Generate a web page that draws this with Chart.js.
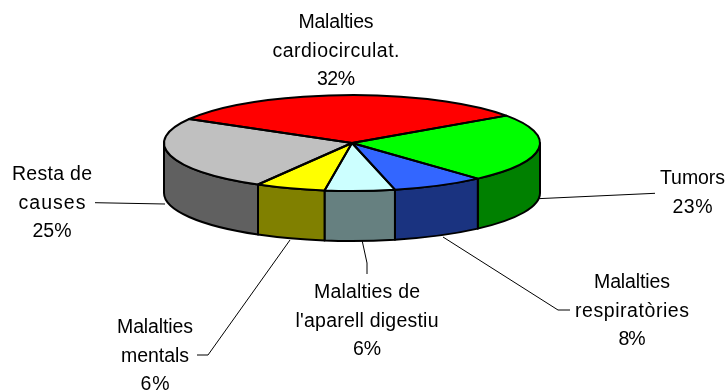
<!DOCTYPE html>
<html><head><meta charset="utf-8">
<style>html,body{margin:0;padding:0;background:#fff}canvas{display:block}</style>
<script src="https://cdn.jsdelivr.net/npm/chart.js@4"></script>
</head><body>
<canvas id="c" width="728" height="390"></canvas>
<script>
const categories = ["Malalties cardiocirculat.","Tumors","Malalties respiratòries","Malalties de l'aparell digestiu","Malalties mentals","Resta de causes"];
const values = [32,23,8,6,6,25];
const labelLines = [["Malalties","cardiocirculat."],["Tumors"],["Malalties","respiratòries"],["Malalties de","l'aparell digestiu"],["Malalties","mentals"],["Resta de","causes"]];
const topColors = ["#ff0000","#00ff00","#3366ff","#ccffff","#ffff00","#c0c0c0"];
const sideColors = ["#800000","#008000","#1a3380","#668080","#808000","#606060"];
const labelPos = [[336,28],[692.5,184],[632,288],[367,298],[155,333],[52,180]];
const lineWidths = [[75,127,38],[65,40],[76,114,27],[106,143,28],[76,68,29],[80,67,39]];
const leaders = [null,[[538,198.7],[655,193.3]],[[443,237],[558,310],[570,310]],[[362,240],[367,263],[367,274]],[[290,240],[208,355],[197,355]],[[95,202.7],[165,204]]];
const CX=352, CY=143, SY=0.255, DEPTH=50, FONT='19.5px "Liberation Sans", Arial, sans-serif', LH=28.5;

const pie3d = {
  id:'pie3d',
  beforeDatasetsDraw(chart){
    const ctx=chart.ctx, arcs=chart.getDatasetMeta(0).data;
    const a0=arcs[0];
    arcs.forEach((a,i)=>{
      for(let k=-1;k<=1;k++){
        const s=Math.max(a.startAngle+k*2*Math.PI,0), e=Math.min(a.endAngle+k*2*Math.PI,Math.PI);
        if(e<=s) continue;
        const r=a.outerRadius;
        ctx.save();
        ctx.beginPath();
        ctx.ellipse(CX,CY,r,r*SY,0,s,e,false);
        ctx.ellipse(CX,CY+DEPTH,r,r*SY,0,e,s,true);
        ctx.closePath();
        ctx.fillStyle=sideColors[i]; ctx.fill();
        ctx.strokeStyle='#000'; ctx.lineWidth=2; ctx.lineJoin='round'; ctx.stroke();
        ctx.restore();
      }
    });
    ctx.save();
    ctx.translate(CX,CY); ctx.scale(1,SY); ctx.translate(-a0.x,-a0.y);
  },
  afterDatasetsDraw(chart){
    const ctx=chart.ctx, arcs=chart.getDatasetMeta(0).data;
    ctx.restore();
    ctx.save();
    ctx.strokeStyle='#000'; ctx.lineWidth=2; ctx.lineJoin='round';
    arcs.forEach(a=>{
      const r=a.outerRadius;
      ctx.beginPath();
      ctx.moveTo(CX,CY);
      ctx.ellipse(CX,CY,r,r*SY,0,a.startAngle,a.endAngle,false);
      ctx.closePath();
      ctx.stroke();
    });
    ctx.restore();
    ctx.save();
    ctx.strokeStyle='#000'; ctx.lineWidth=1;
    leaders.forEach(l=>{
      if(!l) return;
      ctx.beginPath();
      l.forEach((p,j)=> j? ctx.lineTo(p[0],p[1]) : ctx.moveTo(p[0],p[1]));
      ctx.stroke();
    });
    ctx.fillStyle='#000'; ctx.font=FONT; ctx.textAlign='center'; ctx.textBaseline='alphabetic';
    const total=values.reduce((s,v)=>s+v,0);
    labelLines.forEach((lines,i)=>{
      const all=[...lines, Math.round(values[i]/total*100)+'%'];
      all.forEach((t,j)=>{
        ctx.letterSpacing='0px';
        const natural=ctx.measureText(t).width;
        const ls=(lineWidths[i][j]-natural)/Math.max(t.length-1,1);
        ctx.letterSpacing=ls.toFixed(3)+'px';
        ctx.fillText(t,labelPos[i][0]+ls/2,labelPos[i][1]+j*LH);
      });
    });
    ctx.restore();
  }
};

new Chart(document.getElementById('c'),{
  type:'pie',
  data:{labels:categories,datasets:[{data:values,backgroundColor:topColors,borderWidth:0,radius:188}]},
  options:{responsive:false,animation:false,rotation:-60,
    layout:{padding:0},
    plugins:{legend:{display:false},tooltip:{enabled:false}}},
  plugins:[pie3d]
});
</script>
</body></html>
